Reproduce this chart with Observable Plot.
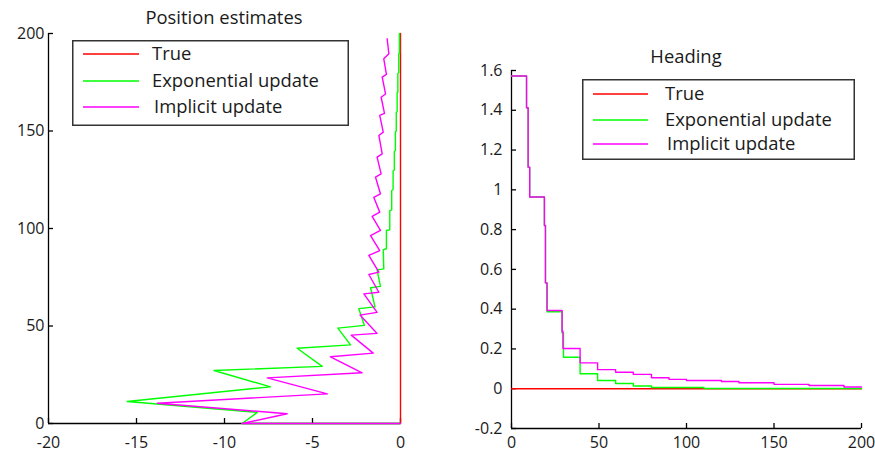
<!DOCTYPE html>
<html>
<head>
<meta charset="utf-8">
<script src="https://cdn.jsdelivr.net/npm/d3@7"></script>
<script src="https://cdn.jsdelivr.net/npm/@observablehq/plot@0.6"></script>
<style>
  body { margin: 0; background: #fff; }
  #wrap { position: relative; width: 875px; height: 453px; overflow: hidden; font-family: "Open Sans", sans-serif; color: #1a1a1a; }
  .panel { position: absolute; top: 0; }
  .title { position: absolute; font-size: 18.4px; transform: translate(-50%, -50%); white-space: nowrap; }
  #overlay { position: absolute; left: 0; top: 0; }
</style>
</head>
<body>
<div id="wrap"></div>
<script>
// ---------- data ----------
const seriesNames = ["True", "Exponential update", "Implicit update"];
const seriesColors = ["#ff0000", "#00ff00", "#ff00ff"];

const posTitle = "Position estimates";
const headTitle = "Heading";

const posXTicks = [-20, -15, -10, -5, 0];
const posYTicks = [0, 50, 100, 150, 200];
const headXTicks = [0, 50, 100, 150, 200];
const headYTicks = [-0.2, 0, 0.2, 0.4, 0.6, 0.8, 1, 1.2, 1.4, 1.6];

// Position estimates (x = lateral position, y = forward position)
const posTrueX = [0, 0];
const posTrueY = [0, 200];

const posExpX = [0, -9.0, -8.14, -15.53, -7.39, -10.6, -4.45, -5.87, -2.84, -3.56, -2.05, -2.37, -1.45, -1.70, -1.14, -1.33, -0.95, -0.98, -0.80, -0.80, -0.61, -0.61, -0.50, -0.50, -0.42, -0.42, -0.35, -0.35, -0.29, -0.29, -0.24, -0.24, -0.19, -0.19, -0.15, -0.15, -0.10, -0.10, -0.06, -0.06];
const posExpY = [0, 0, 5.7, 11.3, 18.8, 27.2, 29.3, 38.6, 40.3, 48.9, 50.3, 58.9, 59.8, 69.6, 70.3, 78.8, 79.3, 89.1, 89.6, 99.0, 99.3, 109.2, 109.6, 119.5, 120.0, 129.5, 130.0, 139.5, 140.0, 149.5, 150.0, 159.5, 160.0, 169.5, 170.0, 179.5, 180.0, 189.5, 190.0, 200];

const posImpX = [0, -9.0, -6.44, -13.82, -4.16, -7.57, -2.18, -3.98, -1.55, -2.80, -1.33, -2.30, -1.33, -2.08, -1.23, -1.80, -1.23, -1.80, -1.18, -1.70, -1.14, -1.61, -1.18, -1.52, -1.14, -1.42, -1.10, -1.33, -1.04, -1.23, -0.98, -1.18, -0.91, -1.10, -0.85, -1.04, -0.80, -0.95, -0.66, -0.76];
const posImpY = [0, 0, 5.0, 10.4, 15.2, 23.4, 26.0, 34.2, 36.1, 45.3, 46.2, 55.6, 57.0, 66.5, 67.3, 76.4, 77.6, 86.2, 88.7, 96.4, 99.0, 106.2, 108.4, 116.0, 117.8, 126.3, 128.0, 136.6, 138.3, 147.7, 149.4, 158.0, 159.0, 167.3, 169.0, 177.6, 179.0, 187.0, 189.6, 197.3];

// Heading (x = time step, y = heading in rad)
const headTrueX = [0, 200];
const headTrueY = [0, 0];

const headExpX = [0, 8.6, 8.6, 9.5, 9.5, 10.4, 10.4, 18.8, 18.8, 19.4, 19.4, 20.3, 20.3, 28.9, 28.9, 29.7, 29.7, 39.2, 39.2, 49.2, 49.2, 59.5, 59.5, 69.6, 69.6, 80, 80, 110, 110, 200];
const headExpY = [1.572, 1.572, 1.413, 1.413, 1.114, 1.114, 0.964, 0.964, 0.821, 0.821, 0.532, 0.532, 0.387, 0.387, 0.280, 0.280, 0.158, 0.158, 0.075, 0.075, 0.041, 0.041, 0.026, 0.026, 0.014, 0.014, 0.006, 0.006, 0.001, 0.001];

const headImpX = [0, 8.6, 8.6, 9.5, 9.5, 10.4, 10.4, 18.8, 18.8, 19.4, 19.4, 20.3, 20.3, 28.9, 28.9, 29.4, 29.4, 39.2, 39.2, 49.2, 49.2, 59.5, 59.5, 69.6, 69.6, 80, 80, 90, 90, 100, 100, 120, 120, 130, 130, 150, 150, 170, 170, 190, 190, 200];
const headImpY = [1.572, 1.572, 1.413, 1.413, 1.114, 1.114, 0.964, 0.964, 0.821, 0.821, 0.532, 0.532, 0.393, 0.393, 0.289, 0.289, 0.202, 0.202, 0.130, 0.130, 0.096, 0.096, 0.083, 0.083, 0.072, 0.072, 0.055, 0.055, 0.047, 0.047, 0.041, 0.041, 0.036, 0.036, 0.030, 0.030, 0.022, 0.022, 0.016, 0.016, 0.009, 0.009];

// ---------- build ----------
const rows = (xs, ys) => xs.map((x, i) => ({x, y: ys[i]}));
const LW = 1.4;
const axisColor = "#000";

function panel({xs, ys, xDomain, yDomain, xTicks, yTicks, width, left, margins, xPad, yPad}) {
  const svg = Plot.plot({
    width, height: 453,
    ...margins,
    style: {fontFamily: "Open Sans, sans-serif", fontSize: "16px", color: "#1a1a1a", background: "transparent", overflow: "visible"},
    x: {domain: xDomain},
    y: {domain: yDomain},
    marks: [
      Plot.ruleX([xDomain[0]], {stroke: axisColor, strokeWidth: 1.3}),
      Plot.ruleY([yDomain[0]], {stroke: axisColor, strokeWidth: 1.3}),
      Plot.axisX(xTicks, {tickSize: -5, tickPadding: xPad, label: null, stroke: axisColor, strokeWidth: 1.3, tickFormat: d => String(d)}),
      Plot.axisY(yTicks, {tickSize: -5, tickPadding: yPad, label: null, stroke: axisColor, strokeWidth: 1.3, tickFormat: d => String(Math.round(d * 10) / 10)}),
      ...xs.map((xv, i) => Plot.line(rows(xv, ys[i]), {x: "x", y: "y", stroke: seriesColors[i], strokeWidth: LW}))
    ]
  });
  svg.classList.add("panel");
  svg.style.left = left + "px";
  return svg;
}

const wrap = document.getElementById("wrap");

wrap.appendChild(panel({
  xs: [posTrueX, posExpX, posImpX], ys: [posTrueY, posExpY, posImpY],
  xDomain: [-20, 0], yDomain: [0, 200], xTicks: posXTicks, yTicks: posYTicks,
  width: 430, left: 0,
  margins: {marginLeft: 48, marginRight: 30, marginTop: 33, marginBottom: 30},
  xPad: 18, yPad: 9
}));

wrap.appendChild(panel({
  xs: [headTrueX, headExpX, headImpX], ys: [headTrueY, headExpY, headImpY],
  xDomain: [0, 200], yDomain: [-0.2, 1.6], xTicks: headXTicks, yTicks: headYTicks,
  width: 435, left: 440,
  margins: {marginLeft: 71, marginRight: 14, marginTop: 70, marginBottom: 25},
  xPad: 13, yPad: 14
}));

function addTitle(text, cx, cy) {
  const d = document.createElement("div");
  d.className = "title";
  d.textContent = text;
  d.style.left = cx + "px";
  d.style.top = cy + "px";
  wrap.appendChild(d);
}
addTitle(posTitle, 224, 16);
addTitle(headTitle, 686, 55);

// legends (overlay SVG)
const overlay = d3.select(wrap).append("svg")
  .attr("id", "overlay").attr("width", 875).attr("height", 453);

function addLegend(box, lineX0, lineX1, textX, rowsY) {
  overlay.append("rect")
    .attr("x", box[0] + 0.75).attr("y", box[1] + 0.75)
    .attr("width", box[2] - box[0] - 1.5).attr("height", box[3] - box[1] - 1.5)
    .attr("fill", "#fff").attr("stroke", "#333").attr("stroke-width", 1.5);
  seriesNames.forEach((name, i) => {
    overlay.append("line")
      .attr("x1", lineX0).attr("x2", lineX1)
      .attr("y1", rowsY[i]).attr("y2", rowsY[i])
      .attr("stroke", seriesColors[i]).attr("stroke-width", 1.5);
    overlay.append("text")
      .attr("x", textX + (i === 2 ? 2 : 0)).attr("y", rowsY[i])
      .attr("dy", "0.35em")
      .attr("font-family", "Open Sans, sans-serif").attr("font-size", 18.4)
      .attr("fill", "#1a1a1a")
      .text(name);
  });
}
addLegend([72, 40, 349, 126], 83, 139, 152, [54, 81, 107]);
addLegend([582, 79, 855, 160], 593, 648, 665, [94, 120, 144]);
</script>
</body>
</html>
